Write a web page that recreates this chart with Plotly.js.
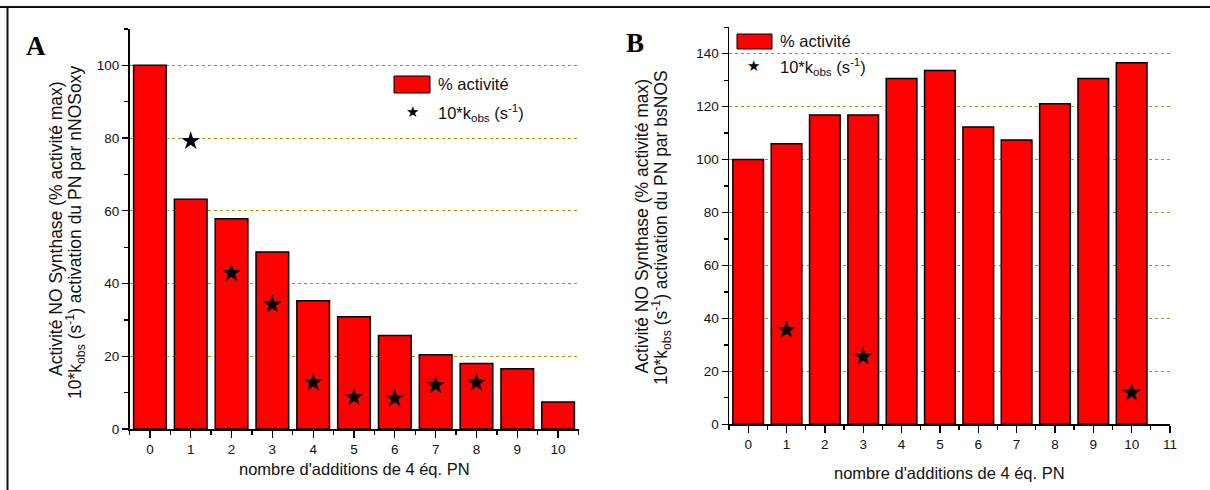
<!DOCTYPE html>
<html>
<head>
<meta charset="utf-8">
<script src="https://cdn.plot.ly/plotly-3.0.1.min.js"></script>
<style>
html,body{margin:0;padding:0;background:#fff;}
#chart{width:1210px;height:490px;}
</style>
</head>
<body>
<div id="chart"></div>
<script>
// ---- data ----
const categoriesA = [0, 1, 2, 3, 4, 5, 6, 7, 8, 9, 10];
const activiteA = [100, 63.2, 57.8, 48.7, 35.3, 30.9, 25.7, 20.4, 18.0, 16.6, 7.4];
const kobsAx = [1, 2, 3, 4, 5, 6, 7, 8];
const kobsA = [79.2, 42.9, 34.2, 12.8, 8.7, 8.4, 12.0, 12.7];

const categoriesB = [0, 1, 2, 3, 4, 5, 6, 7, 8, 9, 10];
const activiteB = [100, 106, 116.8, 116.8, 130.6, 133.6, 112.3, 107.4, 121.1, 130.6, 136.6];
const kobsBx = [1, 3, 10];
const kobsB = [35.6, 25.5, 11.9];

const legendBar = "% activité";
const legendStar = "10*k<sub>obs</sub> (s<sup>-1</sup>)";
const xTitle = "nombre d'additions de 4 éq. PN";
const yTitle1 = "Activité NO Synthase (% activité max)";
const yTitle2A = "10*k<sub>obs</sub> (s<sup>-1</sup>) activation du PN par nNOSoxy";
const yTitle2B = "10*k<sub>obs</sub> (s<sup>-1</sup>) activation du PN par bsNOS";

// ---- helpers ----
const W = 1210, H = 490;
const px = x => x / W;
const py = y => 1 - y / H;
const FONT = "Liberation Sans, Arial, sans-serif";
const TXT = "#111";
const GRID = "#9a9a10";

const barStyle = {color: "#ff0000", line: {color: "#000", width: 1.5}};
const starStyle = {symbol: "star", size: 14, color: "#000"};

const traces = [
  {type: "bar", x: categoriesA, y: activiteA, width: 0.8, marker: barStyle, xaxis: "x", yaxis: "y", name: legendBar, showlegend: false},
  {type: "scatter", mode: "markers", x: kobsAx, y: kobsA, marker: starStyle, xaxis: "x", yaxis: "y", name: "10*kobs", showlegend: false},
  {type: "bar", x: categoriesB, y: activiteB, width: 0.8, marker: barStyle, xaxis: "x2", yaxis: "y2", name: legendBar, showlegend: false},
  {type: "scatter", mode: "markers", x: kobsBx, y: kobsB, marker: starStyle, xaxis: "x2", yaxis: "y2", name: "10*kobs", showlegend: false}
];

function xax(domain, range, anchor) {
  return {
    domain: domain, range: range, anchor: anchor,
    showline: true, linecolor: "#000", linewidth: 1.5,
    ticks: "outside", ticklen: 7, tickwidth: 1.3, tickcolor: "#000",
    tick0: 0, dtick: 1,
    minor: {ticks: "outside", ticklen: 4, tickwidth: 1.3, tickcolor: "#000", tick0: 0.5, dtick: 1, showgrid: false},
    showgrid: false, zeroline: false, fixedrange: true,
    tickfont: {family: FONT, size: 13.5, color: TXT}
  };
}
function yax(domain, range, anchor) {
  return {
    domain: domain, range: range, anchor: anchor,
    showline: true, linecolor: "#000", linewidth: 1.5,
    ticks: "outside", ticklen: 6, tickwidth: 1.3, tickcolor: "#000",
    tick0: 0, dtick: 20,
    minor: {ticks: "outside", ticklen: 4, tickwidth: 1.3, tickcolor: "#000", tick0: 10, dtick: 20, showgrid: false},
    showgrid: true, gridcolor: GRID, gridwidth: 1, griddash: "3px,3px",
    zeroline: false, fixedrange: true,
    tickfont: {family: FONT, size: 13.5, color: TXT}
  };
}

function ann(text, x, y, size, extra) {
  return Object.assign({
    text: text, x: px(x), y: py(y), xref: "paper", yref: "paper",
    xanchor: "center", yanchor: "middle", showarrow: false,
    font: {family: FONT, size: size, color: TXT}
  }, extra || {});
}

const SERIF = {family: "Liberation Serif, Times New Roman, serif", size: 27, color: "#000"};
const STAR = {family: "DejaVu Sans", size: 15, color: "#000"};

const layout = {
  width: W, height: H,
  margin: {l: 0, r: 0, t: 0, b: 0},
  paper_bgcolor: "#fff", plot_bgcolor: "rgba(0,0,0,0)",
  showlegend: false,
  xaxis: xax([px(129.5), px(578.5)], [-0.5, 10.5], "y"),
  yaxis: yax([py(429), py(29)], [0, 110], "x"),
  xaxis2: xax([px(729), px(1170)], [-0.5, 11], "y2"),
  yaxis2: yax([py(424.3), py(27.2)], [0, 150], "x2"),
  shapes: [
    // outer frame (top and left)
    {type: "line", xref: "paper", yref: "paper", x0: 0, x1: 1, y0: py(7), y1: py(7), line: {color: "#111", width: 2}},
    {type: "line", xref: "paper", yref: "paper", x0: px(7.5), x1: px(7.5), y0: py(7), y1: 0, line: {color: "#111", width: 2}},
    // legend swatches
    {type: "rect", xref: "paper", yref: "paper", x0: px(394), x1: px(430), y0: py(93), y1: py(76), fillcolor: "#ff0000", line: {color: "#000", width: 1}},
    {type: "rect", xref: "paper", yref: "paper", x0: px(737), x1: px(772), y0: py(49), y1: py(34), fillcolor: "#ff0000", line: {color: "#000", width: 1}}
  ],
  annotations: [
    ann("<b>A</b>", 36, 46, 27, {font: SERIF}),
    ann("<b>B</b>", 635, 43, 27, {font: SERIF}),
    ann(yTitle1, 56, 229, 17.5, {textangle: -90}),
    ann(yTitle2A, 76, 233, 17.5, {textangle: -90}),
    ann(yTitle1, 641.5, 226, 17.5, {textangle: -90}),
    ann(yTitle2B, 661, 228, 17.5, {textangle: -90}),
    ann(xTitle, 354, 469, 16.5),
    ann(xTitle, 949.5, 473, 16.5),
    // legend A
    ann(legendBar, 436, 84, 16.5, {xanchor: "left"}),
    ann("★", 412, 112, 15, {font: STAR}),
    ann(legendStar, 436, 113, 16.5, {xanchor: "left"}),
    // legend B
    ann(legendBar, 778, 41, 16.5, {xanchor: "left"}),
    ann("★", 754, 66.5, 15, {font: STAR}),
    ann(legendStar, 778, 67, 16.5, {xanchor: "left"})
  ]
};

Plotly.newPlot("chart", traces, layout, {displayModeBar: false, staticPlot: true});
</script>
</body>
</html>
